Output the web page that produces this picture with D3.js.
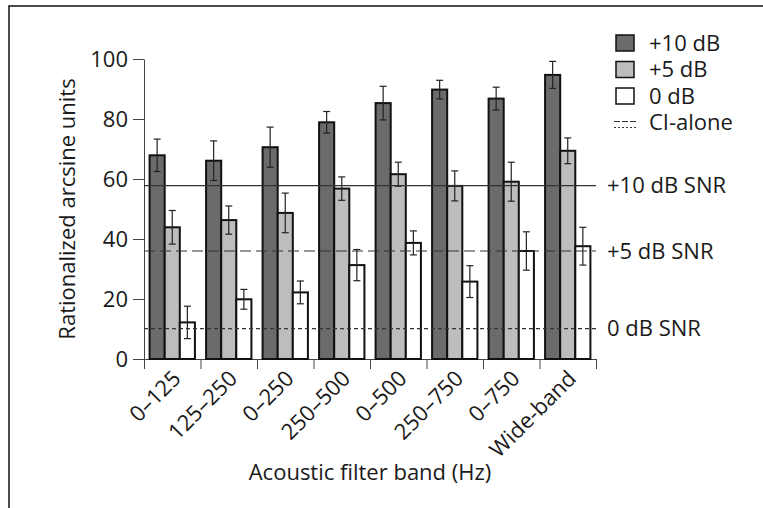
<!DOCTYPE html>
<html>
<head>
<meta charset="utf-8">
<script src="https://cdn.jsdelivr.net/npm/d3@7"></script>
<style>
  body { margin: 0; background: #fff; }
  svg text { font-family: "Open Sans", sans-serif; fill: #1a1a1a; }
</style>
</head>
<body>
<div id="chart"></div>
<script>
// ============================================
// DATA
// ============================================
const categories = ["0–125", "125–250", "0–250", "250–500", "0–500", "250–750", "0–750", "Wide-band"];
const seriesNames = ["+10 dB", "+5 dB", "0 dB"];
const plus10 = [67.9, 66.1, 70.6, 78.9, 85.3, 89.8, 86.8, 94.7];
const plus10Err = [5.4, 6.6, 6.7, 3.6, 5.6, 3.1, 3.8, 4.5];
const plus5 = [43.9, 46.3, 48.7, 56.8, 61.6, 57.7, 59.1, 69.4];
const plus5Err = [5.6, 4.7, 6.6, 3.9, 4.0, 5.0, 6.5, 4.3];
const zero = [12.2, 19.9, 22.2, 31.3, 38.7, 25.8, 36.0, 37.6];
const zeroErr = [5.4, 3.3, 3.8, 5.2, 4.0, 5.3, 6.4, 6.3];
const ciAlone = [57.8, 36.0, 10.1];
const ciLabels = ["+10 dB SNR", "+5 dB SNR", "0 dB SNR"];
const yTicks = [0, 20, 40, 60, 80, 100];

const seriesValues = [plus10, plus5, zero];
const seriesErrors = [plus10Err, plus5Err, zeroErr];
const fills = ["#6b6b6b", "#bdbdbd", "#ffffff"];
const ciDash = [null, "11,5", "4,3"];
const FONT = "22px";

// ============================================
// LAYOUT
// ============================================
const width = 763;
const height = 508;
const margin = { top: 59, left: 144, right: 167, bottom: 149 };

const svg = d3.select("#chart").append("svg")
  .attr("width", width)
  .attr("height", height);

// outer frame (only top and left edges visible)
svg.append("rect")
  .attr("x", 9).attr("y", 6)
  .attr("width", 900).attr("height", 700)
  .attr("fill", "none")
  .attr("stroke", "#111")
  .attr("stroke-width", 1.5);

const x = d3.scaleBand()
  .domain(categories)
  .range([margin.left, width - margin.right]);

const xSub = d3.scaleBand()
  .domain(seriesNames)
  .range([0, x.bandwidth()])
  .paddingOuter(0.37);

const y = d3.scaleLinear()
  .domain([0, 100])
  .range([height - margin.bottom, margin.top]);

// ============================================
// AXES
// ============================================
const yAxis = svg.append("g")
  .attr("transform", `translate(${margin.left},0)`)
  .call(d3.axisLeft(y).tickValues(yTicks).tickSize(11).tickSizeOuter(0).tickPadding(5));
yAxis.selectAll("text").style("font-size", FONT);
yAxis.selectAll("path, line").attr("stroke", "#444");

// boundary ticks along x
const xEdge = d3.scaleLinear().domain([0, categories.length]).range(x.range());
const xAxis = svg.append("g")
  .attr("transform", `translate(0,${y(0)})`)
  .call(d3.axisBottom(xEdge).ticks(categories.length).tickSize(10).tickSizeOuter(0).tickFormat(""));
xAxis.selectAll("path, line").attr("stroke", "#444");

// rotated category labels
svg.append("g").selectAll("text")
  .data(categories)
  .join("text")
  .attr("transform", (d) => `translate(${x(d) + x.bandwidth() / 2 - 1},${y(0) + 10}) rotate(-45)`)
  .attr("text-anchor", "end")
  .attr("dy", "0.7em")
  .style("font-size", FONT)
  .text((d) => d);

// axis titles
svg.append("text")
  .attr("transform", `translate(75,${(y(0) + y(100)) / 2}) rotate(-90)`)
  .attr("text-anchor", "middle")
  .style("font-size", FONT)
  .text("Rationalized arcsine units");

svg.append("text")
  .attr("x", (x.range()[0] + x.range()[1]) / 2)
  .attr("y", 480)
  .attr("text-anchor", "middle")
  .style("font-size", FONT)
  .text("Acoustic filter band (Hz)");

// ============================================
// BARS & ERROR BARS
// ============================================
seriesNames.forEach((s, si) => {
  const g = svg.append("g");
  const vals = seriesValues[si];
  const errs = seriesErrors[si];

  g.selectAll("rect")
    .data(categories)
    .join("rect")
    .attr("x", (d) => x(d) + xSub(s))
    .attr("y", (d, i) => y(vals[i]))
    .attr("width", xSub.bandwidth())
    .attr("height", (d, i) => y(0) - y(vals[i]))
    .attr("fill", fills[si])
    .attr("stroke", "#111")
    .attr("stroke-width", 2);

  const eb = g.selectAll("g.err")
    .data(categories)
    .join("g")
    .attr("class", "err")
    .attr("stroke", "#222")
    .attr("stroke-width", 1.2);
  const cx = (d) => x(d) + xSub(s) + xSub.bandwidth() / 2;
  eb.append("line")
    .attr("x1", cx).attr("x2", cx)
    .attr("y1", (d, i) => y(vals[i] + errs[i]))
    .attr("y2", (d, i) => y(vals[i] - errs[i]));
  [1, -1].forEach((sign) => {
    eb.append("line")
      .attr("x1", (d) => cx(d) - 3.5).attr("x2", (d) => cx(d) + 3.5)
      .attr("y1", (d, i) => y(vals[i] + sign * errs[i]))
      .attr("y2", (d, i) => y(vals[i] + sign * errs[i]));
  });
});

// ============================================
// CI-ALONE REFERENCE LINES
// ============================================
const ref = svg.append("g");
ciAlone.forEach((v, i) => {
  ref.append("line")
    .attr("x1", margin.left).attr("x2", x.range()[1])
    .attr("y1", y(v)).attr("y2", y(v))
    .attr("stroke", "#333")
    .attr("stroke-width", 1.2)
    .attr("stroke-dasharray", ciDash[i]);
  ref.append("text")
    .attr("x", 607)
    .attr("y", y(v))
    .attr("dy", "0.35em")
    .style("font-size", FONT)
    .text(ciLabels[i]);
});

// ============================================
// LEGEND
// ============================================
const legend = svg.append("g").attr("transform", "translate(616,35)");
seriesNames.forEach((s, i) => {
  const row = legend.append("g").attr("transform", `translate(0,${i * 26.5})`);
  row.append("rect")
    .attr("width", 18).attr("height", 16)
    .attr("fill", fills[i])
    .attr("stroke", "#111")
    .attr("stroke-width", 1.5);
  row.append("text")
    .attr("x", 33).attr("y", 8)
    .attr("dy", "0.35em")
    .style("font-size", FONT)
    .text(s);
});
const ciRow = legend.append("g").attr("transform", `translate(0,${3 * 26.5})`);
ciRow.append("line")
  .attr("x1", -2).attr("x2", 20).attr("y1", 7).attr("y2", 7)
  .attr("stroke", "#333").attr("stroke-width", 1).attr("stroke-dasharray", "6,2");
ciRow.append("line")
  .attr("x1", -2).attr("x2", 20).attr("y1", 13).attr("y2", 13)
  .attr("stroke", "#333").attr("stroke-width", 1).attr("stroke-dasharray", "2,2");
ciRow.append("text")
  .attr("x", 33).attr("y", 8)
  .attr("dy", "0.35em")
  .style("font-size", FONT)
  .text("CI-alone");
</script>
</body>
</html>
